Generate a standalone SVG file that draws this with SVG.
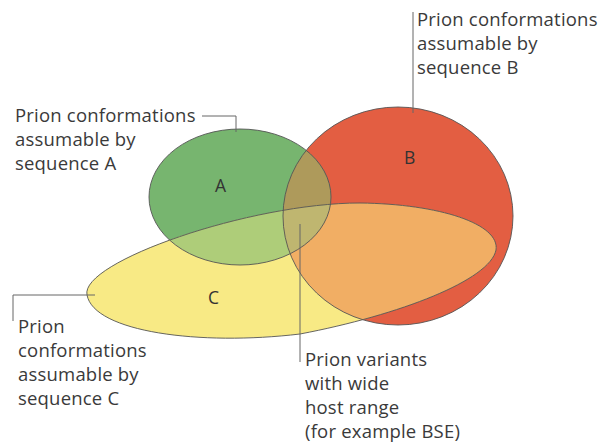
<svg xmlns="http://www.w3.org/2000/svg" width="604" height="446" viewBox="0 0 604 446">
<style>
.lbl{font-family:"Open Sans","Liberation Sans",sans-serif;font-size:18.5px;letter-spacing:0.2px;fill:#3a3a3a}
.set{font-family:"Open Sans","Liberation Sans",sans-serif;font-size:17.5px;fill:#333}
.edge{fill:none;stroke:#555;stroke-width:0.9}
.lead{fill:none;stroke:#666;stroke-width:1}
</style>
<defs>
<ellipse id="shA" cx="240" cy="197" rx="91" ry="68"/>
<ellipse id="shB" cx="398" cy="216" rx="115" ry="109"/>
<path id="shC" d="M87 295 C80 262 250 203 360 203 C440 204 500 224 496 250 C490 280 400 315 300 334 C200 346 94 332 87 295 Z"/>
<clipPath id="cA"><use href="#shA"/></clipPath>
<clipPath id="cB"><use href="#shB"/></clipPath>
<clipPath id="cC"><use href="#shC"/></clipPath>
</defs>
<g id="fills">
<use href="#shB" fill="#e35e42"/>
<use href="#shA" fill="#77b56f"/>
<use href="#shC" fill="#f8ea85"/>
<use href="#shA" fill="#ae9a5b" clip-path="url(#cB)"/>
<use href="#shA" fill="#aecd79" clip-path="url(#cC)"/>
<use href="#shB" fill="#f1ae64" clip-path="url(#cC)"/>
<g clip-path="url(#cC)"><use href="#shA" fill="#bfb670" clip-path="url(#cB)"/></g>
</g>
<g id="setA"><use href="#shA" class="edge"/><text class="set" x="215" y="192">A</text></g>
<g id="setB"><use href="#shB" class="edge"/><text class="set" x="404" y="164">B</text></g>
<g id="setC"><use href="#shC" class="edge"/><text class="set" x="208" y="304">C</text></g>
<g id="connectors">
<polyline class="lead" points="202,116 236,116 236,132"/>
<polyline class="lead" points="413,12 413,113"/>
<polyline class="lead" points="95,295 13,295 13,321"/>
<polyline class="lead" points="300,224 300,362"/>
</g>
<g id="labelA"><text class="lbl" x="15"><tspan x="15" y="122">Prion conformations</tspan><tspan x="15" y="146">assumable by</tspan><tspan x="15" y="170">sequence A</tspan></text></g>
<g id="labelB"><text class="lbl" x="417"><tspan x="417" y="26">Prion conformations</tspan><tspan x="417" y="50">assumable by</tspan><tspan x="417" y="74">sequence B</tspan></text></g>
<g id="labelC"><text class="lbl" x="18"><tspan x="18" y="333">Prion</tspan><tspan x="18" y="357">conformations</tspan><tspan x="18" y="381">assumable by</tspan><tspan x="18" y="405">sequence C</tspan></text></g>
<g id="labelBSE"><text class="lbl" x="305"><tspan x="305" y="366">Prion variants</tspan><tspan x="305" y="390">with wide</tspan><tspan x="305" y="414">host range</tspan><tspan x="305" y="438">(for example BSE)</tspan></text></g>
</svg>
